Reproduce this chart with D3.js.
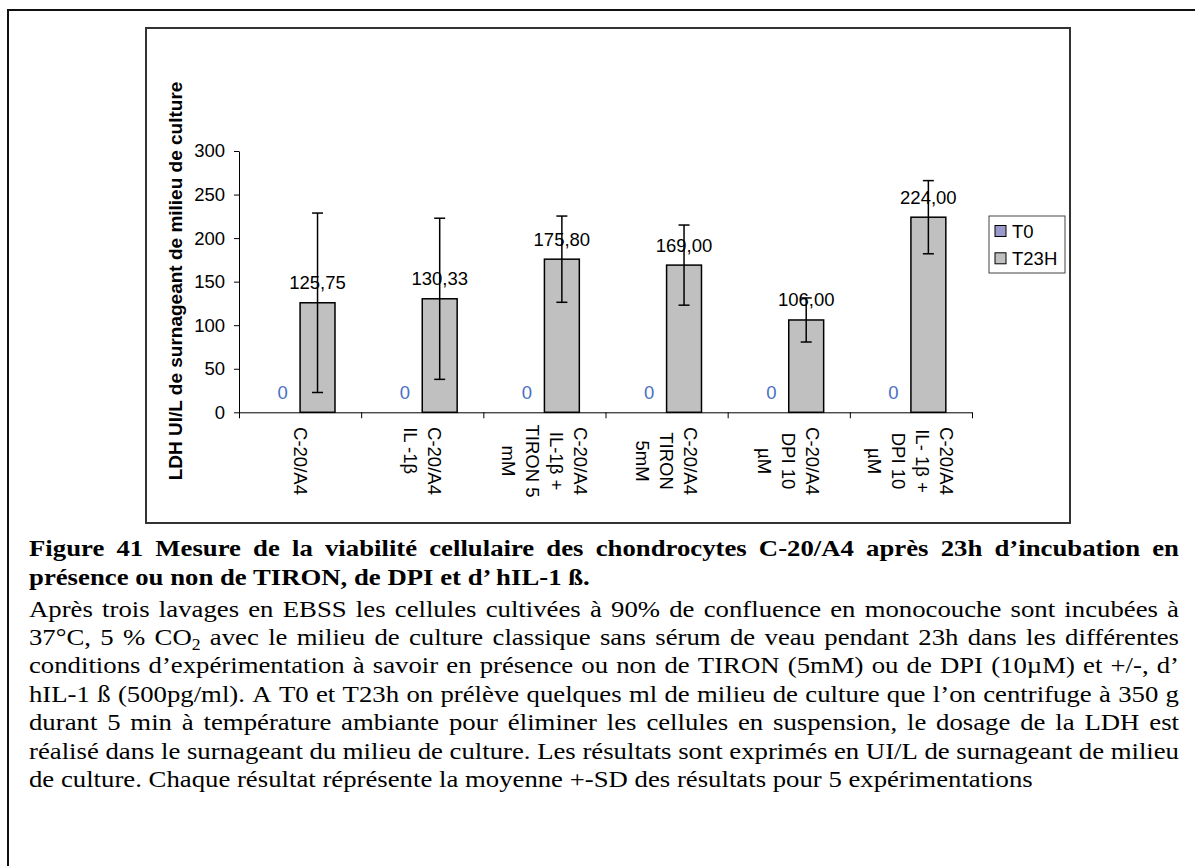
<!DOCTYPE html>
<html>
<head>
<meta charset="utf-8">
<script src="https://cdn.jsdelivr.net/npm/d3@7"></script>
<style>
  html, body { margin: 0; padding: 0; background: #fff; }
  svg { display: block; }
  .chart text { font-family: "Liberation Sans", Arial, sans-serif; }
  .caption text { font-family: "Liberation Serif", "Times New Roman", serif; }
</style>
</head>
<body>
<svg id="fig" width="1195" height="866"></svg>
<script>
// ---- data ----
const categoryLines = [
  ["C-20/A4"],
  ["C-20/A4", "IL -1β\u00a0\u00a0\u00a0\u00a0"],
  ["C-20/A4", "IL-1β +", "TIRON 5", "mM"],
  ["C-20/A4", "TIRON", "5mM"],
  ["C-20/A4", "DPI 10", "µM"],
  ["C-20/A4", "IL- 1β +", "DPI 10", "µM"]
];
const seriesNames = ["T0", "T23H"];
const t0Values = [0, 0, 0, 0, 0, 0];
const t23Values = [125.75, 130.33, 175.80, 169.00, 106.00, 224.00];
const t23SD = [103, 92.5, 49.5, 46, 25.3, 42];
const yTicks = [0, 50, 100, 150, 200, 250, 300];
const yTitle = "LDH UI/L de surnageant de milieu de culture";

const captionTitle = [
  "Figure 41 Mesure de la viabilité cellulaire des chondrocytes C-20/A4 après 23h d’incubation en",
  "présence ou non de TIRON, de DPI et d’ hIL-1 ß."
];
const captionBody = [
  "Après trois lavages en EBSS les cellules cultivées à 90% de confluence en monocouche sont incubées à",
  "37°C, 5 % CO_2 avec le milieu de culture classique sans sérum de veau pendant 23h dans les différentes",
  "conditions d’expérimentation à savoir en présence ou non de TIRON (5mM) ou de DPI (10µM) et +/-, d’",
  "hIL-1 ß (500pg/ml). A T0 et T23h on prélève quelques ml de milieu de culture que l’on centrifuge à 350 g",
  "durant 5 min à température ambiante pour éliminer les cellules en suspension, le dosage de la LDH est",
  "réalisé dans le surnageant du milieu de culture. Les résultats sont exprimés en UI/L de surnageant de milieu",
  "de culture. Chaque résultat réprésente la moyenne +-SD des résultats pour 5 expérimentations"
];

// ---- page frame ----
const svg = d3.select("#fig");
svg.append("rect")
  .attr("x", 8).attr("y", 10).attr("width", 1400).attr("height", 1000)
  .attr("fill", "none").attr("stroke", "#111").attr("stroke-width", 2);

// ---- chart ----
const chart = svg.append("g").attr("class", "chart");
chart.append("rect")
  .attr("x", 146).attr("y", 28).attr("width", 924).attr("height", 495)
  .attr("fill", "#fff").attr("stroke", "#333").attr("stroke-width", 2);

const plot = { left: 239, right: 972, top: 151, bottom: 412.3 };
const fs = 18.5;

const x = d3.scaleBand().domain(d3.range(categoryLines.length))
  .range([plot.left, plot.right]).paddingInner(0).paddingOuter(0);
const xs = d3.scaleBand().domain(seriesNames)
  .range([0, x.bandwidth()]).paddingInner(0).paddingOuter(0.75);
const xEdge = d3.scaleLinear().domain([0, categoryLines.length])
  .range([plot.left, plot.right]);
const y = d3.scaleLinear().domain([0, 300]).range([plot.bottom, plot.top]);

const fr = d3.formatLocale({ decimal: ",", thousands: " ", grouping: [3], currency: ["", " €"] });
const fmt2 = fr.format(".2f");
const fmt0 = fr.format(".0f");

// y axis
const yAxis = chart.append("g")
  .attr("transform", `translate(${plot.left},0)`)
  .call(d3.axisLeft(y).tickValues(yTicks).tickSize(5).tickSizeOuter(0).tickPadding(9));
yAxis.selectAll("text").attr("font-size", fs).attr("fill", "#000");
yAxis.selectAll("line, path").attr("stroke", "#000");

// x axis: ticks at category boundaries
const xAxis = chart.append("g")
  .attr("transform", `translate(0,${plot.bottom})`)
  .call(d3.axisBottom(xEdge).tickValues(d3.range(categoryLines.length + 1))
    .tickSize(6).tickSizeOuter(0).tickFormat(""));
xAxis.selectAll("line, path").attr("stroke", "#000");

// category labels, rotated, multi-line
const lineGap = 24;
categoryLines.forEach((lines, i) => {
  const cx = x(i) + x.bandwidth() / 2;
  const n = lines.length;
  const t = chart.append("text")
    .attr("transform", `translate(${cx},461) rotate(90)`)
    .attr("text-anchor", "middle")
    .attr("font-size", fs)
    .style("white-space", "pre");
  lines.forEach((ln, j) => {
    t.append("tspan").attr("x", 0)
      .attr("y", (j - (n - 1) / 2) * lineGap + 6.5)
      .text(ln);
  });
});

// bars
const groups = chart.append("g").selectAll("g")
  .data(d3.range(categoryLines.length)).join("g")
  .attr("transform", i => `translate(${x(i)},0)`);

groups.append("rect")
  .attr("x", xs("T0")).attr("width", xs.bandwidth())
  .attr("y", i => y(t0Values[i])).attr("height", i => y(0) - y(t0Values[i]))
  .attr("fill", "#9999cc").attr("stroke", "#000").attr("stroke-width", 1.5);

groups.append("rect")
  .attr("x", xs("T23H")).attr("width", xs.bandwidth())
  .attr("y", i => y(t23Values[i])).attr("height", i => y(0) - y(t23Values[i]))
  .attr("fill", "#c0c0c0").attr("stroke", "#000").attr("stroke-width", 1.5);

// value labels
groups.append("text")
  .attr("x", xs("T0") + xs.bandwidth() / 2)
  .attr("y", i => y(t0Values[i]) - 13.5)
  .attr("text-anchor", "middle").attr("font-size", fs).attr("fill", "#4a6fc4")
  .text(i => fmt0(t0Values[i]));

groups.append("text")
  .attr("x", xs("T23H") + xs.bandwidth() / 2)
  .attr("y", i => y(t23Values[i]) - 13.5)
  .attr("text-anchor", "middle").attr("font-size", fs).attr("fill", "#000")
  .text(i => fmt2(t23Values[i]));

// error bars (± SD)
const eb = groups.append("g").attr("stroke", "#000").attr("stroke-width", 1.5);
const ecx = xs("T23H") + xs.bandwidth() / 2;
eb.append("line").attr("x1", ecx).attr("x2", ecx)
  .attr("y1", i => y(t23Values[i] + t23SD[i])).attr("y2", i => y(t23Values[i] - t23SD[i]));
eb.append("line").attr("x1", ecx - 5.5).attr("x2", ecx + 5.5)
  .attr("y1", i => y(t23Values[i] + t23SD[i])).attr("y2", i => y(t23Values[i] + t23SD[i]));
eb.append("line").attr("x1", ecx - 5.5).attr("x2", ecx + 5.5)
  .attr("y1", i => y(t23Values[i] - t23SD[i])).attr("y2", i => y(t23Values[i] - t23SD[i]));

// y title
chart.append("text")
  .attr("transform", `translate(182,281) rotate(-90)`)
  .attr("text-anchor", "middle").attr("font-size", 19).attr("font-weight", "bold")
  .text(yTitle);

// legend
const legend = chart.append("g");
legend.append("rect").attr("x", 989).attr("y", 216).attr("width", 76).attr("height", 57)
  .attr("fill", "#fff").attr("stroke", "#444").attr("stroke-width", 1);
const legendColors = ["#9999cc", "#c0c0c0"];
seriesNames.forEach((s, k) => {
  const cy = 231 + k * 27.3;
  legend.append("rect").attr("x", 995).attr("y", cy - 5.5).attr("width", 11).attr("height", 11)
    .attr("fill", legendColors[k]).attr("stroke", "#000").attr("stroke-width", 1);
  legend.append("text").attr("x", 1012).attr("y", cy + 6.6)
    .attr("font-size", fs).text(s);
});

// ---- caption ----
const cap = svg.append("g").attr("class", "caption");
const capLeft = 29, capRight = 1179, capSize = 24, capStretch = 1.115;

function wordNode(g, word, weight) {
  const t = g.append("text").attr("font-size", capSize).attr("font-weight", weight);
  if (word.includes("_")) {
    const [base, sub] = word.split("_");
    t.append("tspan").text(base);
    t.append("tspan").attr("font-size", capSize * 0.66).attr("dy", 5).text(sub);
  } else {
    t.text(word);
  }
  return t;
}

function drawLine(text, baseline, weight, justify) {
  const g = cap.append("g")
    .attr("transform", `translate(${capLeft},${baseline}) scale(${capStretch},1)`);
  if (!justify) {
    g.append("text").attr("x", 0).attr("y", 0)
      .attr("font-size", capSize).attr("font-weight", weight).text(text);
    return;
  }
  const words = text.split(" ");
  const nodes = words.map(w => wordNode(g, w, weight));
  const widths = nodes.map(n => n.node().getComputedTextLength());
  const avail = (capRight - capLeft) / capStretch;
  const gap = (avail - d3.sum(widths)) / (words.length - 1);
  let cx = 0;
  nodes.forEach((n, k) => {
    n.attr("x", cx).attr("y", 0);
    cx += widths[k] + gap;
  });
}

const titleBase = [555.5, 585];
captionTitle.forEach((ln, k) => drawLine(ln, titleBase[k], "bold", k < captionTitle.length - 1));
const bodyStart = 616.5, bodyStep = 28.4;
captionBody.forEach((ln, k) => drawLine(ln, bodyStart + k * bodyStep, "normal", k < captionBody.length - 1));
</script>
</body>
</html>
